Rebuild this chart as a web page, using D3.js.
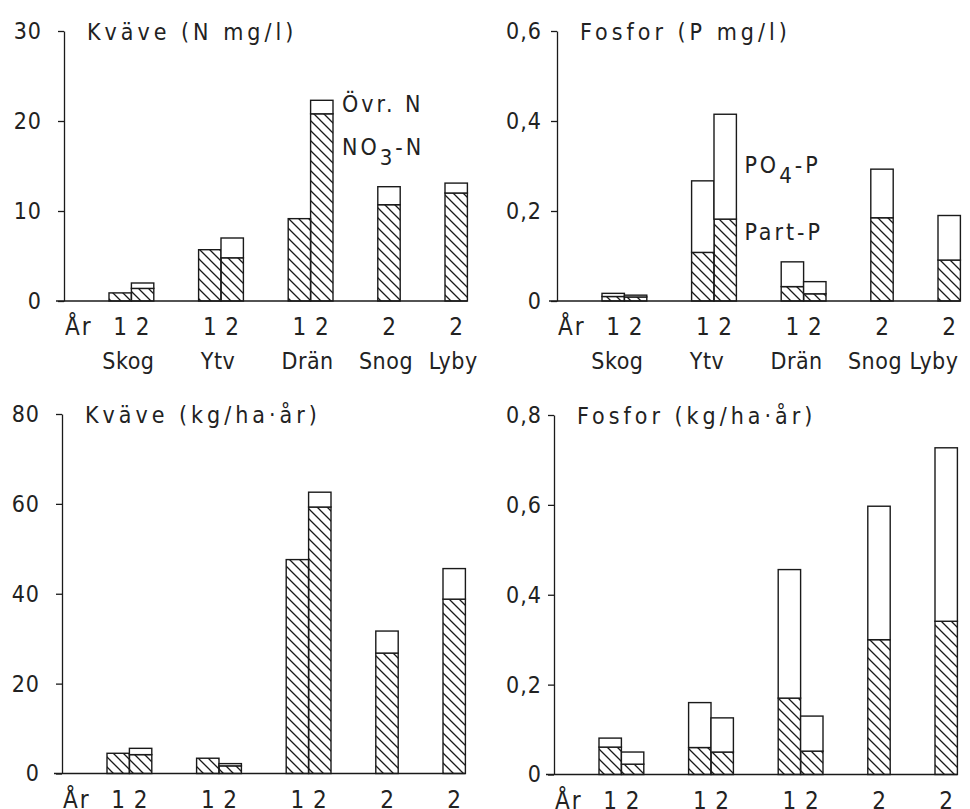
<!DOCTYPE html>
<meta charset="utf-8">
<style>
body { margin: 0; background: #fff; }
svg { display: block; }
text {
  font-family: "DejaVu Sans Condensed", "DejaVu Sans", sans-serif;
  font-stretch: condensed;
  fill: #222;
  letter-spacing: 2px;
}
.axis path, .axis line { stroke: #1a1a1a; stroke-width: 1.3; }
.axis text { font-size: 23px; letter-spacing: 1px; }
.bar { stroke: #1a1a1a; stroke-width: 1.4; }
.year { font-size: 24px; }
.group { font-size: 23px; letter-spacing: 0.5px; }
.title { font-size: 23px; letter-spacing: 4px; }
.legend { font-size: 23px; letter-spacing: 3px; }
</style>
<svg width="970" height="809"></svg>
<script src="https://d3js.org/d3.v7.min.js"></script>
<script>

// bar slots along x, "_" slots are empty gaps
var slots = ["Skog 1", "Skog 2", "_a", "_b", "Ytv 1", "Ytv 2", "_c", "_d",
             "Drän 1", "Drän 2", "_e", "_f", "Snog 2", "_g", "_h", "Lyby 2"];
var bars = ["Skog 1", "Skog 2", "Ytv 1", "Ytv 2", "Drän 1", "Drän 2", "Snog 2", "Lyby 2"];
var groups = ["Skog", "Ytv", "Drän", "Snog", "Lyby"];

// Kväve (N mg/l): total and NO3-N (hatched)
var nTotMg = [0.9, 2.0, 5.7, 7.0, 9.15, 22.3, 12.7, 13.1];
var no3Mg  = [0.9, 1.4, 5.7, 4.8, 9.15, 20.8, 10.7, 12.0];
// Fosfor (P mg/l): total and Part-P (hatched)
var pTotMg  = [0.017, 0.013, 0.267, 0.415, 0.087, 0.043, 0.293, 0.19];
var partPMg = [0.010, 0.009, 0.108, 0.182, 0.032, 0.016, 0.185, 0.091];
// Kväve (kg/ha·år)
var nTotKg = [4.5, 5.6, 3.4, 2.2, 47.6, 62.6, 31.7, 45.6];
var no3Kg  = [4.5, 4.2, 3.4, 1.7, 47.6, 59.3, 26.8, 38.8];
// Fosfor (kg/ha·år)
var pTotKg  = [0.081, 0.050, 0.16, 0.126, 0.456, 0.13, 0.597, 0.727];
var partPKg = [0.061, 0.023, 0.06, 0.05, 0.17, 0.052, 0.30, 0.341];

var ticksNMg = [0, 10, 20, 30];
var ticksPMg = [0, 0.2, 0.4, 0.6];
var ticksNKg = [0, 20, 40, 60, 80];
var ticksPKg = [0, 0.2, 0.4, 0.6, 0.8];

var svg = d3.select("svg");

// hatch pattern (lines going down to the right)
var defs = svg.append("defs");
defs.append("pattern")
    .attr("id", "hatch")
    .attr("patternUnits", "userSpaceOnUse")
    .attr("width", 10).attr("height", 10)
  .append("path")
    .attr("d", "M-1,-1L11,11M-6,4L6,16M4,-6L16,6")
    .attr("stroke", "#1a1a1a")
    .attr("stroke-width", 1.3);

var fmt = function(d) { return d3.format("")(d).replace(".", ","); };

function panel(opt) {
  var g = svg.append("g");

  var x = d3.scaleBand().domain(slots)
      .range([opt.ax + 45, opt.ax + 45 + 22.4 * slots.length]).padding(0);
  var y = d3.scaleLinear().domain([0, d3.max(opt.ticks)]).range([opt.y0, opt.top]);

  g.append("g")
      .attr("class", "axis")
      .attr("transform", "translate(" + opt.ax + ",0)")
      .call(d3.axisLeft(y).tickValues(opt.ticks).tickFormat(fmt)
        .tickSize(6).tickSizeOuter(0).tickPadding(opt.pad));

  // baseline
  g.append("line")
      .attr("x1", opt.ax - 8).attr("x2", x.range()[1])
      .attr("y1", y(0)).attr("y2", y(0))
      .attr("stroke", "#1a1a1a").attr("stroke-width", 1.3);

  var data = bars.map(function(b, i) {
    return {key: b, total: opt.total[i], low: opt.low[i]};
  });

  // hatched part
  g.selectAll(".low").data(data).enter().append("rect")
      .attr("class", "bar low")
      .attr("x", function(d) { return x(d.key); })
      .attr("y", function(d) { return y(d.low); })
      .attr("width", x.bandwidth())
      .attr("height", function(d) { return y(0) - y(d.low); })
      .attr("fill", "url(#hatch)");

  // white part on top
  g.selectAll(".high").data(data.filter(function(d) { return d.total > d.low; }))
    .enter().append("rect")
      .attr("class", "bar high")
      .attr("x", function(d) { return x(d.key); })
      .attr("y", function(d) { return y(d.total); })
      .attr("width", x.bandwidth())
      .attr("height", function(d) { return y(d.low) - y(d.total); })
      .attr("fill", "#fff");

  // year labels
  g.append("text").attr("class", "year")
      .attr("x", opt.ax + 1).attr("y", y(0) + 34)
      .text("År");
  g.selectAll(".yr").data(bars).enter().append("text")
      .attr("class", "year")
      .attr("text-anchor", "middle")
      .attr("x", function(d) { return x(d) + x.bandwidth() / 2 + 1; })
      .attr("y", y(0) + 34)
      .text(function(d) { return d.split(" ")[1]; });

  if (opt.groupLabels) {
    var maxX = opt.maxX || Infinity;
    g.selectAll(".grp").data(groups).enter().append("text")
        .attr("class", "group")
        .attr("text-anchor", "middle")
        .attr("x", function(grp) {
          var own = bars.filter(function(b) { return b.split(" ")[0] === grp; });
          var a = x(own[0]), b = x(own[own.length - 1]) + x.bandwidth();
          return Math.min((a + b) / 2 + opt.shift, maxX);
        })
        .attr("y", y(0) + 68)
        .text(function(d) { return d; });
  }

  g.append("text").attr("class", "title")
      .attr("x", opt.ax + 23).attr("y", opt.top + 9)
      .text(opt.title);

  return {x: x, y: y, g: g};
}

var p1 = panel({ax: 64, y0: 301, top: 31, ticks: ticksNMg, pad: 16, shift: -3,
  total: nTotMg, low: no3Mg, title: "Kväve (N mg/l)", groupLabels: true});
var p2 = panel({ax: 557, y0: 301, top: 31, ticks: ticksPMg, pad: 9, shift: -7, maxX: 934,
  total: pTotMg, low: partPMg, title: "Fosfor (P mg/l)", groupLabels: true});
var p3 = panel({ax: 62, y0: 773.5, top: 414, ticks: ticksNKg, pad: 16, shift: 0,
  total: nTotKg, low: no3Kg, title: "Kväve (kg/ha·år)", groupLabels: false});
var p4 = panel({ax: 554, y0: 774.5, top: 415, ticks: ticksPKg, pad: 6, shift: 0,
  total: pTotKg, low: partPKg, title: "Fosfor (kg/ha·år)", groupLabels: false});

// legend labels beside the tallest bars
var lx1 = p1.x("Drän 2") + p1.x.bandwidth() + 9;
p1.g.append("text").attr("class", "legend").attr("x", lx1).attr("y", 112).text("Övr. N");
var t1 = p1.g.append("text").attr("class", "legend").attr("x", lx1).attr("y", 155);
t1.append("tspan").text("NO");
t1.append("tspan").attr("dy", 10).attr("font-size", "22px").text("3");
t1.append("tspan").attr("dy", -10).text("-N");

var lx2 = p2.x("Ytv 2") + p2.x.bandwidth() + 8;
var t2 = p2.g.append("text").attr("class", "legend").attr("x", lx2).attr("y", 173);
t2.append("tspan").text("PO");
t2.append("tspan").attr("dy", 10).attr("font-size", "22px").text("4");
t2.append("tspan").attr("dy", -10).text("-P");
p2.g.append("text").attr("class", "legend").attr("x", lx2).attr("y", 240).text("Part-P");

</script>
